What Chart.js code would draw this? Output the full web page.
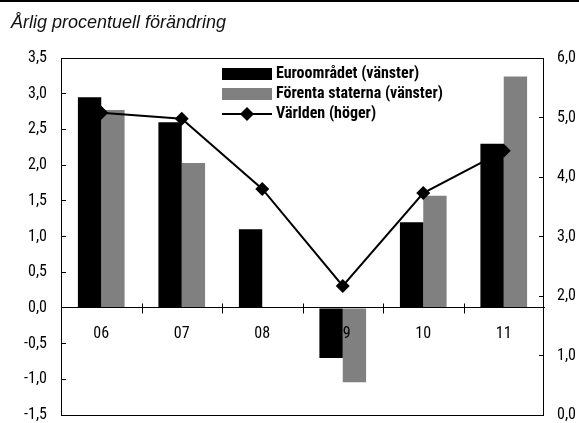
<!DOCTYPE html>
<html lang="sv">
<head>
<meta charset="utf-8">
<title>Årlig procentuell förändring</title>
<script src="https://cdn.jsdelivr.net/npm/chart.js@4.4.1/dist/chart.umd.min.js"></script>
<style>
  html, body { margin: 0; padding: 0; background: #fff; }
  #wrap { position: relative; width: 579px; height: 423px; overflow: hidden; }
  #topline { position: absolute; left: 0; top: 0; width: 579px; height: 2px; background: #000; }
  #title {
    position: absolute; left: 11px; top: 12px;
    font: italic 18px/20px "Liberation Sans", Arial, sans-serif; color: #111;
  }
  canvas { position: absolute; left: 0; top: 0; }
</style>
</head>
<body>
<div id="wrap">
  <canvas id="chartCanvas" width="579" height="423"></canvas>
  <div id="topline"></div>
  <div id="title">Årlig procentuell förändring</div>
</div>
<script>
// --- data ---
const years = ["06", "07", "08", "09", "10", "11"];
const euroArea = [2.95, 2.6, 1.1, -0.7, 1.2, 2.3];        // left axis
const unitedStates = [2.77, 2.03, 0, -1.04, 1.57, 3.24];  // left axis
const world = [5.08, 4.98, 3.8, 2.17, 3.73, 4.44];        // right axis

const seriesNames = ["Euroområdet (vänster)", "Förenta staterna (vänster)", "Världen (höger)"];
const leftAxis = { min: -1.5, max: 3.5, step: 0.5 };
const rightAxis = { min: 0, max: 6, step: 1 };

const BLACK = "#000000";
const GREY = "#808080";

Chart.defaults.font.family = '"Roboto Condensed", "Liberation Sans Narrow", sans-serif';
Chart.defaults.font.size = 16;
Chart.defaults.color = "#111";

const fmt = v => Number(v).toFixed(1).replace(".", ",");

// little canvases used as legend symbols
function legendIcon(kind, color) {
  const c = document.createElement("canvas");
  const g = c.getContext("2d");
  if (kind === "line") {
    c.width = 50; c.height = 14;
    g.fillStyle = color;
    g.fillRect(0, 6, 50, 2);
    g.beginPath();
    g.moveTo(25, 0); g.lineTo(32, 7); g.lineTo(25, 14); g.lineTo(18, 7);
    g.closePath();
    g.fill();
  } else {
    c.width = 50; c.height = 12;
    g.fillStyle = color;
    g.fillRect(0, 0, 50, 12);
  }
  return c;
}
const icons = [legendIcon("bar", BLACK), legendIcon("bar", GREY), legendIcon("line", BLACK)];

// legend sits inside the plot, frame + crossing ticks on the zero line
const placeLegend = {
  id: "placeLegend",
  afterLayout(chart) {
    const lg = chart.legend;
    if (!lg) return;
    lg.left = 222; lg.top = 62;
    lg.right = lg.left + 320; lg.bottom = lg.top + 90;
    lg.width = 320; lg.height = 90;
  }
};

const frameAndTicks = {
  id: "frameAndTicks",
  afterDraw(chart) {
    const { ctx, chartArea: a, scales: { x, y } } = chart;
    const y0 = Math.round(y.getPixelForValue(0)) + 0.5;
    ctx.save();
    ctx.strokeStyle = BLACK;
    ctx.lineWidth = 1;
    ctx.strokeRect(Math.round(a.left) + 0.5, Math.round(a.top) + 0.5,
      Math.round(a.right - a.left) - 1, Math.round(a.bottom - a.top));
    ctx.beginPath();
    for (let i = 1; i < years.length; i++) {
      const px = Math.round((x.getPixelForValue(i - 1) + x.getPixelForValue(i)) / 2) + 0.5;
      ctx.moveTo(px, y0 - 5);
      ctx.lineTo(px, y0 + 5);
    }
    ctx.stroke();
    ctx.restore();
  }
};

// fixed axis widths, and keep the label overhang from shrinking the plot
function fixAxis(width) {
  return scale => {
    scale.width = width;
    scale.paddingTop = 8;
    scale.paddingBottom = 8;
  };
}

const canvas = document.getElementById("chartCanvas");

new Chart(canvas, {
  type: "bar",
  data: {
    labels: years,
    datasets: [
      {
        label: seriesNames[0],
        data: euroArea,
        backgroundColor: BLACK,
        borderWidth: 0,
        yAxisID: "y",
        order: 1
      },
      {
        label: seriesNames[1],
        data: unitedStates,
        backgroundColor: GREY,
        borderWidth: 0,
        yAxisID: "y",
        order: 1
      },
      {
        type: "line",
        label: seriesNames[2],
        data: world,
        yAxisID: "y1",
        borderColor: BLACK,
        backgroundColor: BLACK,
        borderWidth: 2,
        tension: 0,
        pointStyle: "rectRot",
        pointRadius: 7,
        pointBorderWidth: 0,
        pointBackgroundColor: BLACK,
        order: 0
      }
    ]
  },
  options: {
    responsive: false,
    animation: false,
    devicePixelRatio: 1,
    layout: { padding: { top: 58, bottom: 8, left: 0, right: 0 } },
    datasets: {
      bar: { categoryPercentage: 0.58, barPercentage: 1.0 }
    },
    plugins: {
      title: { display: false },
      tooltip: { enabled: false },
      legend: {
        position: "chartArea",
        align: "start",
        labels: {
          usePointStyle: true,
          pointStyleWidth: 42,
          padding: 4,
          color: "#000",
          font: { size: 16, weight: "bold", lineHeight: 1 },
          sort: (a, b) => a.datasetIndex - b.datasetIndex,
          generateLabels(chart) {
            const items = Chart.defaults.plugins.legend.labels.generateLabels(chart);
            items.forEach(it => { it.pointStyle = icons[it.datasetIndex]; });
            return items;
          }
        }
      }
    },
    scales: {
      x: {
        position: { y: 0 },
        offset: true,
        grid: { display: false, offset: true, drawTicks: false },
        border: { display: true, color: BLACK, width: 1, z: 1 },
        ticks: {
          z: 1,
          padding: 18,
          color: "#000",
          maxRotation: 0,
          autoSkip: false,
          font: { size: 16, lineHeight: 1 }
        },
        afterFit(scale) { scale.height = 0; }
      },
      y: {
        position: "left",
        min: leftAxis.min,
        max: leftAxis.max,
        border: { display: false },
        grid: { drawOnChartArea: false, tickLength: -5, color: BLACK },
        ticks: {
          stepSize: leftAxis.step,
          padding: 19,
          color: "#000",
          font: { size: 16, lineHeight: 1 },
          callback: v => fmt(v)
        },
        afterFit: fixAxis(61)
      },
      y1: {
        position: "right",
        min: rightAxis.min,
        max: rightAxis.max,
        border: { display: false },
        grid: { drawOnChartArea: false, tickLength: -5, color: BLACK },
        ticks: {
          stepSize: rightAxis.step,
          padding: 18,
          color: "#000",
          font: { size: 16, lineHeight: 1 },
          callback: v => fmt(v)
        },
        afterFit: fixAxis(35)
      }
    }
  },
  plugins: [placeLegend, frameAndTicks]
});
</script>
</body>
</html>
